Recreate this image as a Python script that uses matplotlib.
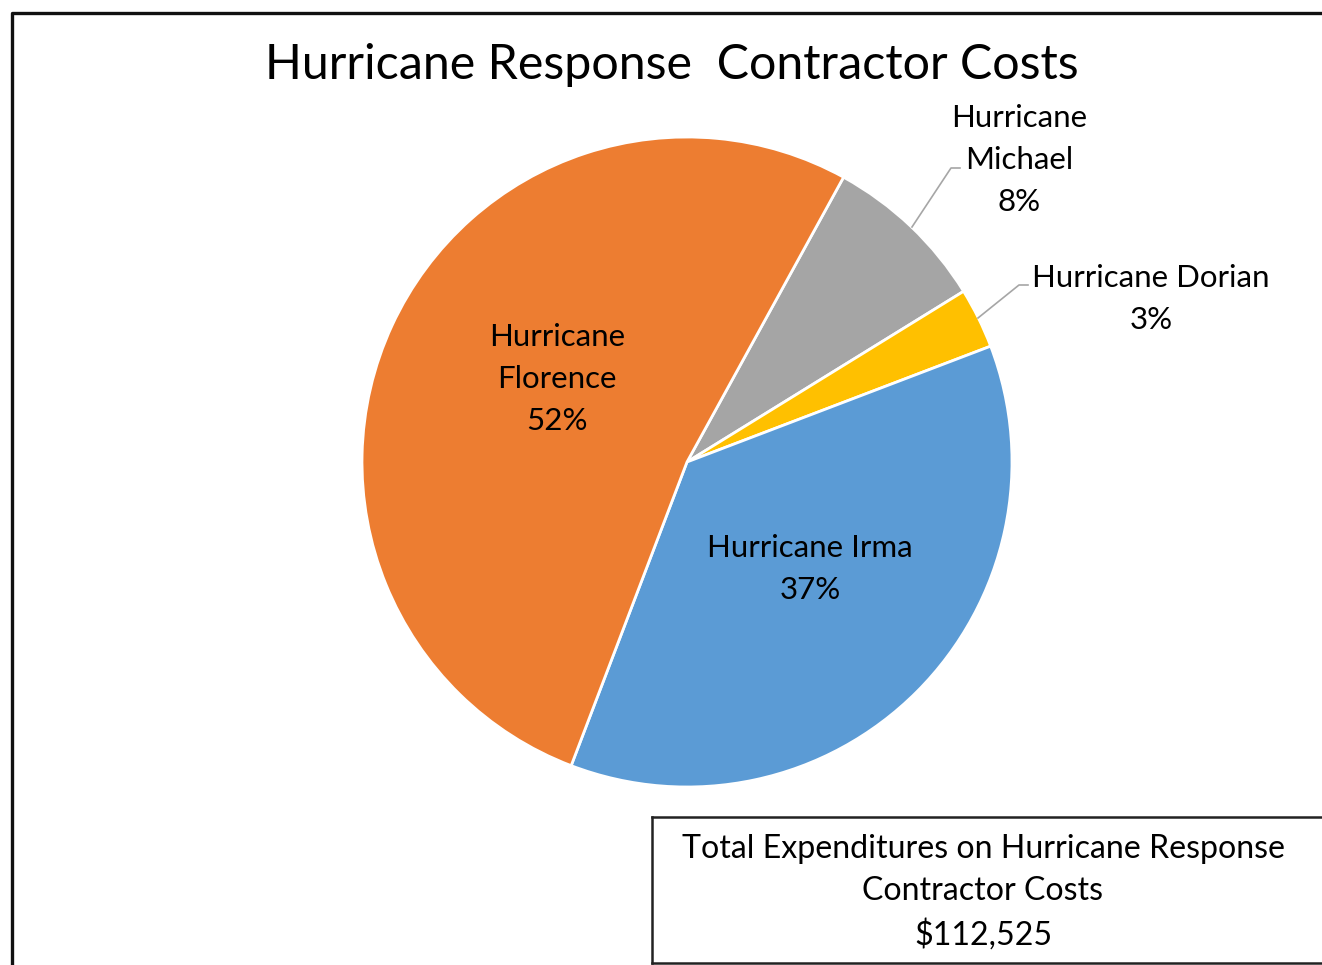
import matplotlib
matplotlib.use('Agg')
import matplotlib.pyplot as plt
from matplotlib.lines import Line2D

# data
names = ['Hurricane Michael', 'Hurricane Dorian', 'Hurricane Irma', 'Hurricane Florence']
shares = [8.2, 3.0, 36.6, 52.2]
colors = ['#A5A5A5', '#FFC000', '#5B9BD5', '#ED7D31']
total_cost = 112525
title = 'Hurricane Response  Contractor Costs'

W, H = 1322, 965
plt.rcParams['font.family'] = ['Lato', 'DejaVu Sans']

fig = plt.figure(figsize=(W / 100, H / 100), dpi=100)
ax = fig.add_axes([0, 0, 1, 1])

# pie in pixel coordinates, y measured from bottom
cx, cy, r = 687, H - 462, 325
ax.pie(shares, colors=colors, startangle=90 - 28.8, counterclock=False,
       center=(cx, cy), radius=r,
       wedgeprops=dict(edgecolor='white', linewidth=2))
ax.set_xlim(0, W)
ax.set_ylim(0, H)
ax.set_aspect('equal')
ax.axis('off')

fs = 22.5
ls = 1.6
lab = {n: f'{s:.0f}%' for n, s in zip(names, shares)}
ax.text(557, H - 379, 'Hurricane\nFlorence\n' + lab['Hurricane Florence'],
        ha='center', va='center', fontsize=fs, linespacing=ls)
ax.text(810, H - 569, 'Hurricane Irma\n' + lab['Hurricane Irma'],
        ha='center', va='center', fontsize=fs, linespacing=ls)
ax.text(1019, H - 160, 'Hurricane\nMichael\n' + lab['Hurricane Michael'],
        ha='center', va='center', fontsize=fs, linespacing=ls)
ax.text(1151, H - 299, 'Hurricane Dorian\n' + lab['Hurricane Dorian'],
        ha='center', va='center', fontsize=fs, linespacing=ls)

# leader lines
ax.plot([912, 951, 960], [H - 227, H - 168, H - 168], color='#A6A6A6', lw=1.2)
ax.plot([978, 1019, 1028], [H - 318, H - 285, H - 285], color='#A6A6A6', lw=1.2)

ax.text(672, H - 65, title, ha='center', va='center', fontsize=34.8)

# total box
ax.plot([652, 652], [H - 817, H - 963], color='#222222', lw=1.8)
ax.plot([652, W], [H - 817, H - 817], color='#222222', lw=1.8)
ax.plot([652, W], [H - 963, H - 963], color='#222222', lw=1.8)
ax.text(983, H - 892,
        'Total Expenditures on Hurricane Response\nContractor Costs\n'
        + f'${total_cost:,}',
        ha='center', va='center', fontsize=23.1, linespacing=1.5)

# outer chart border
fig.add_artist(Line2D([11.5 / W, 11.5 / W, 1], [0, 1 - 12.5 / H, 1 - 12.5 / H],
                      transform=fig.transFigure, color='#111111', lw=2.4))

fig.savefig('out.png', dpi=100)
